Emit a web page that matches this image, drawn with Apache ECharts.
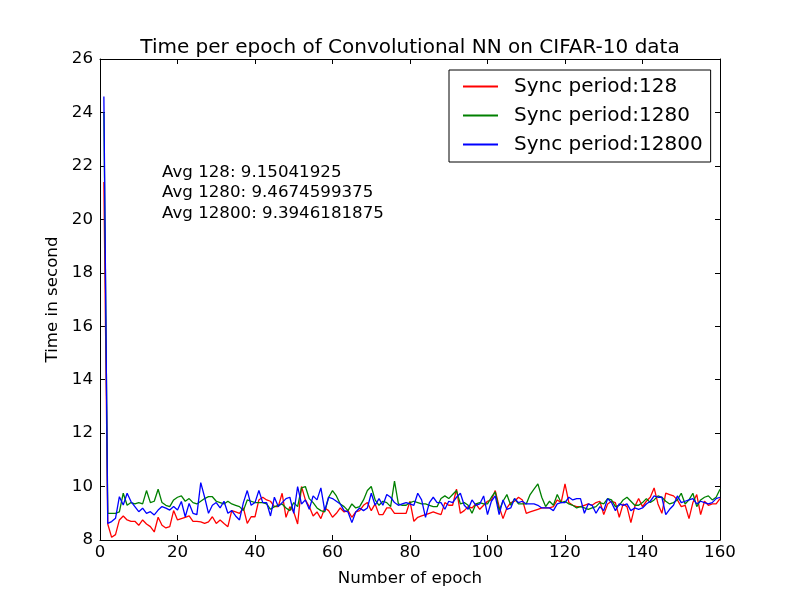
<!DOCTYPE html>
<html>
<head>
<meta charset="utf-8">
<title>Time per epoch</title>
<style>
body{margin:0;padding:0;background:#fff;}
#main{width:800px;height:600px;}
</style>
</head>
<body>
<div id="main"></div>
<script src="https://cdn.jsdelivr.net/npm/echarts@6/dist/echarts.min.js"></script>
<script>
// epoch time, seconds
var red=[21.4,8.6,8.1,8.2,8.75,8.9,8.75,8.7,8.7,8.55,
8.75,8.6,8.5,8.3,8.85,8.55,8.45,8.5,9.1,8.75,
8.8,8.85,8.9,8.7,8.7,8.68,8.62,8.68,8.87,8.62,
8.75,8.62,8.5,9.1,9.05,9.0,9.2,8.62,8.87,8.87,
9.5,9.6,9.5,9.45,9.25,9.25,9.75,8.85,9.25,9.05,
8.6,10.0,9.5,9.25,8.9,9.05,8.8,9.2,9.1,8.85,
9.0,9.2,9.05,9.1,8.85,9.05,9.1,9.3,9.4,9.1,
9.35,8.95,8.95,9.2,9.2,9.0,9.0,9.0,9.0,9.45,
8.7,8.85,8.9,8.95,9.0,9.05,9.0,8.95,9.4,9.3,
9.3,9.9,9.0,9.1,9.25,9.2,9.35,9.15,9.3,9.45,
9.5,9.85,9.25,8.8,9.2,9.4,9.45,9.6,9.5,9.0,
9.05,9.1,9.15,9.2,9.2,9.2,9.25,9.5,9.4,10.1,
9.4,9.3,9.25,9.25,9.3,9.35,9.3,9.4,9.45,8.95,
9.35,9.45,9.4,8.85,9.35,9.25,8.65,9.25,9.55,9.25,
9.45,9.6,9.95,9.35,9.0,9.75,9.7,9.65,9.5,9.25,
9.3,8.8,9.4,9.7,8.95,9.45,9.3,9.35,9.35,9.55];
var green=[24.0,9.0,9.0,9.0,9.05,9.75,9.3,9.4,9.35,9.4,
9.35,9.85,9.4,9.45,9.9,9.4,9.3,9.25,9.5,9.6,
9.65,9.45,9.55,9.4,9.35,9.45,9.55,9.62,9.62,9.45,
9.4,9.35,9.45,9.35,9.3,9.25,9.1,9.5,9.45,9.4,
9.4,9.4,9.35,9.15,9.25,9.3,9.35,9.2,9.1,9.4,
9.25,9.95,10.0,9.55,9.4,9.2,9.1,9.05,9.6,9.85,
9.65,9.35,9.25,9.1,9.35,9.2,9.25,9.5,9.85,10.0,
9.5,9.3,9.45,9.4,9.25,10.2,9.35,9.3,9.3,9.4,
9.45,9.4,9.35,9.35,9.3,9.25,9.25,9.55,9.65,9.55,
9.7,9.85,9.35,9.4,9.3,9.0,9.35,9.4,9.35,9.35,
9.6,9.8,9.1,9.45,9.7,9.3,9.55,9.35,9.35,9.35,
9.7,9.9,10.1,9.6,9.25,9.45,9.3,9.7,9.4,9.45,
9.35,9.3,9.2,9.25,9.2,9.15,9.2,9.25,9.4,9.35,
9.55,9.5,9.25,9.3,9.5,9.6,9.45,9.3,9.3,9.4,
9.55,9.4,9.5,9.65,9.6,9.45,9.35,9.4,9.5,9.75,
9.35,9.5,9.75,9.25,9.5,9.6,9.65,9.5,9.6,9.9];
var blue=[24.6,8.62,8.69,8.81,9.62,9.31,9.75,9.44,9.25,9.06,
9.19,9.0,9.06,8.94,9.12,9.25,9.19,9.12,9.25,9.12,
9.44,8.87,9.37,9.0,8.95,10.15,9.6,9.0,9.3,9.4,
9.2,9.45,9.0,9.1,8.9,8.75,9.4,9.85,9.3,9.4,
9.85,9.4,9.4,8.9,9.6,9.25,9.4,9.55,9.6,9.0,
10.0,9.35,9.5,9.15,9.65,9.5,9.95,9.1,9.6,9.55,
9.45,9.35,9.1,9.05,8.65,9.05,9.2,9.1,9.2,9.75,
9.3,9.55,9.3,9.7,9.6,9.4,9.3,9.35,9.4,9.35,
9.3,9.75,9.5,8.85,9.4,9.6,9.4,9.4,9.15,9.45,
9.4,9.6,9.75,9.3,9.15,9.5,9.3,9.35,9.65,8.95,
9.45,9.65,8.95,9.5,9.15,9.2,9.55,9.4,9.45,9.35,
9.35,9.35,9.3,9.2,9.2,9.2,9.1,9.35,9.4,9.4,
9.6,9.5,9.55,9.55,9.0,9.35,9.3,9.0,9.25,9.1,
9.55,9.4,9.1,9.35,9.3,9.35,9.1,9.2,9.15,9.2,
9.35,9.45,9.65,9.6,9.6,8.95,9.15,9.3,9.65,9.4,
9.45,9.5,9.55,9.35,9.45,9.4,9.35,9.4,9.55,9.6];
var names=['Sync period:128','Sync period:1280','Sync period:12800'];
var colors=['#ff0000','#008000','#0000ff'];
var avgText=['Avg 128: 9.15041925','Avg 1280: 9.4674599375','Avg 12800: 9.3946181875'];

var font='DejaVu Sans';
var fs=16.67;
function pairs(arr){
	var out=[];
	for(var i=0;i<arr.length;i++){
		out.push([i+1,arr[i]]);
	}
	return out;
}
function mkSeries(i,arr){
	return {
		name:names[i],
		type:'line',
		showSymbol:false,
		symbol:'none',
		lineStyle:{width:1.3,color:colors[i]},
		itemStyle:{color:colors[i]},
		data:pairs(arr)
	};
}
var axisLine={show:true,onZero:false,lineStyle:{color:'#000',width:1}};
var tick={show:true,inside:true,length:5,lineStyle:{color:'#000'}};

var myChart=echarts.init(document.getElementById('main'));
var option={
	animation:false,
	backgroundColor:'#fff',
	title:{
		text:'Time per epoch of Convolutional NN on CIFAR-10 data',
		left:410,
		top:38,
		padding:0,
		textAlign:'center',
		textStyle:{fontFamily:font,fontSize:20,fontWeight:'normal',color:'#000'}
	},
	legend:{
		orient:'vertical',
		left:449,
		top:70,
		data:names,
		icon:'rect',
		itemWidth:35,
		itemHeight:2,
		itemGap:6,
		padding:[5,8,6,14],
		borderColor:'#000',
		borderWidth:1,
		textStyle:{fontFamily:font,fontSize:20,color:'#000',lineHeight:23,padding:[0,0,0,11]}
	},
	grid:{left:100,right:80,top:59,bottom:60},
	xAxis:[{
		type:'value',min:0,max:160,interval:20,position:'bottom',
		axisLine:axisLine,axisTick:tick,splitLine:{show:false},
		axisLabel:{fontFamily:font,fontSize:fs,color:'#000',margin:4},
		name:'Number of epoch',nameLocation:'middle',nameGap:30,
		nameTextStyle:{fontFamily:font,fontSize:fs,color:'#000'}
	},{
		type:'value',min:0,max:160,interval:20,position:'top',
		axisLine:axisLine,axisTick:tick,splitLine:{show:false},axisLabel:{show:false}
	}],
	yAxis:[{
		type:'value',min:8,max:26,interval:2,position:'left',
		axisLine:axisLine,axisTick:tick,splitLine:{show:false},
		axisLabel:{fontFamily:font,fontSize:fs,color:'#000',margin:7},
		name:'Time in second',nameLocation:'middle',nameRotate:90,nameGap:32,
		nameTextStyle:{fontFamily:font,fontSize:fs,color:'#000'}
	},{
		type:'value',min:8,max:26,interval:2,position:'right',
		axisLine:axisLine,axisTick:tick,splitLine:{show:false},axisLabel:{show:false}
	}],
	graphic:[{
		type:'text',left:162,top:162,
		style:{text:avgText.join('\n'),fill:'#000',font:'16.67px DejaVu Sans',lineHeight:20.5}
	}],
	series:[mkSeries(0,red),mkSeries(1,green),mkSeries(2,blue)]
};
myChart.setOption(option);
</script>
</body>
</html>
